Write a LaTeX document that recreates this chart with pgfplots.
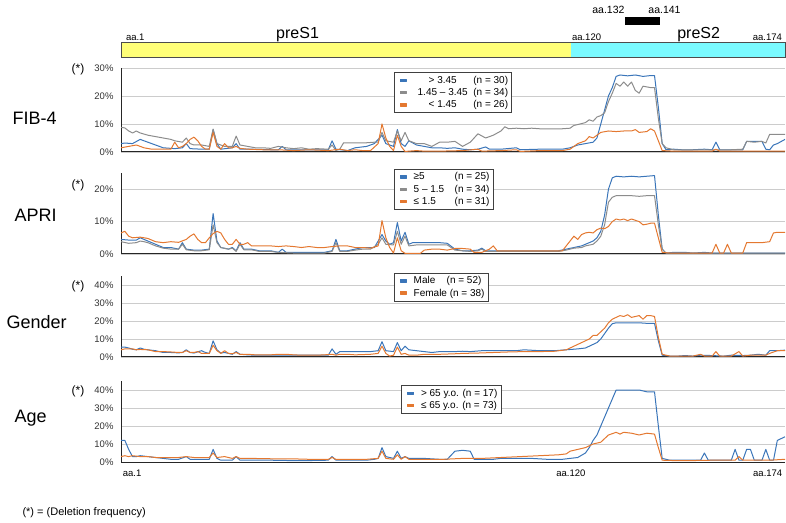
\documentclass[border=0pt]{standalone}
\usepackage{fontspec}
\setmainfont{Liberation Sans}
\usepackage{pgfplots}
\pgfplotsset{compat=1.18}

\definecolor{cblue}{RGB}{58,117,185}
\definecolor{cgray}{RGB}{140,140,140}
\definecolor{corange}{RGB}{228,120,48}
\definecolor{mapyellow}{RGB}{255,255,120}
\definecolor{mapcyan}{RGB}{122,250,255}

\pgfplotsset{
  panel/.style={
    at={(121pt,#1)}, anchor=south west, scale only axis, width=664pt,
    xmin=1, xmax=174, ymin=0,
    axis x line*=bottom, axis y line*=left,
    axis line style={-, black!85, line width=1pt},
    xtick=\empty, major tick length=0pt,
    ymajorgrids, grid style={black!20, line width=0.7pt},
    /pgf/number format/assume math mode=true,
    yticklabel={\pgfmathprintnumber{\tick}\%},
    tick label style={font=\fontsize{9.5}{10}\selectfont, text=black!80},
    yticklabel style={xshift=-4pt},
    legend cell align=left,
    legend style={anchor=north west, draw=black!75, line width=0.6pt,
      font=\fontsize{10}{12.5}\selectfont, inner sep=1.5pt, row sep=-0.5pt},
    legend image code/.code={\fill (4pt,-1.2pt) rectangle (10pt,1.2pt); \path (0pt,0pt) (15pt,0pt);},
    every axis plot/.append style={line width=1pt, line join=round},
  },
}

\begin{document}
\begin{tikzpicture}
\path[use as bounding box] (0,0) rectangle (786pt,522pt);

% ---------- gene map ----------
\begin{axis}[at={(121pt,465pt)}, anchor=south west, scale only axis,
  width=664pt, height=15pt, xmin=1, xmax=174, ymin=0, ymax=1,
  hide axis, clip=false]
\fill[mapyellow] (axis cs:1,0) rectangle (axis cs:118.2,1);
\fill[mapcyan] (axis cs:118.2,0) rectangle (axis cs:174,1);
\draw[black!70, line width=0.8pt] (axis cs:1,0) rectangle (axis cs:174,1);
\fill[black] (axis cs:132.4,2.13) rectangle (axis cs:141.5,2.67);
\node[anchor=south west, inner sep=1pt, font=\fontsize{9.5}{10}\selectfont] at (axis cs:2,1) {aa.1};
\node[anchor=south, inner sep=0pt, font=\fontsize{16}{18}\selectfont] at (axis cs:47,1) {preS1};
\node[anchor=south west, inner sep=1pt, font=\fontsize{9.5}{10}\selectfont] at (axis cs:118.2,1) {aa.120};
\node[anchor=south, inner sep=0pt, font=\fontsize{16}{18}\selectfont] at (axis cs:151.5,1) {preS2};
\node[anchor=south east, inner sep=1pt, font=\fontsize{9.5}{10}\selectfont] at (axis cs:173.5,1) {aa.174};
\node[font=\fontsize{10.5}{12}\selectfont] at (axis cs:128,3.13) {aa.132};
\node[font=\fontsize{10.5}{12}\selectfont] at (axis cs:142.6,3.13) {aa.141};
\end{axis}

% ---------- FIB-4 ----------
\begin{axis}[panel=370pt, height=84pt, ymax=30, ytick={0,10,20,30},
  legend style={at={(rel axis cs:0.411,0.95)}}]
\addplot[cblue] coordinates {(1,3)(2,3.2)(4,3)(6,4.5)(8,3.5)(10,2.5)(12,1.5)(15,1.2)(17,1.5)(18,3)(19,1.2)(22,1)(24,1)(25,8)(26,3)(27,1)(30,1.5)(31,3)(32,1)(35,1)(40,0.8)(42,0.8)(43,2)(44,0.8)(50,0.8)(55,0.8)(56,4)(57,1)(60,0.5)(62,1.5)(65,2)(67,3)(69,6)(70,3)(72,2)(73,8)(74,3)(75,2)(76,4)(78,2.5)(80,2)(82,1.5)(84,1.5)(86,1.3)(88,1.5)(90,1)(92,0.8)(94,1)(96,1.8)(97,1)(100,1)(104,1.5)(105,0.8)(110,1)(116,1)(118,1.5)(120,2.5)(122,3)(124,3.5)(125,5)(126,10)(127,15)(128,20)(129,23)(130,27)(131,27.5)(133,27.2)(135,27.5)(137,27)(139,27.3)(140,27.3)(141,16)(142,3)(143,0.8)(145,1)(147,0.8)(150,0.8)(153,1)(155,0.8)(156,3.5)(157,0.8)(160,0.8)(163,0.8)(164,3.8)(166,3.8)(168,3.8)(169,1)(170,0.8)(171,2.5)(172,3)(174,4.5)};
\addlegendentry{\makebox[5.8em][c]{> 3.45}\,(n = 30)}
\addplot[cgray] coordinates {(1,8.8)(2,8.6)(3,7.5)(4,6.8)(5,7.5)(6,6.8)(8,6)(10,5.5)(12,5)(14,4.5)(15,4)(17,3.5)(18,5)(19,3)(20,2.5)(22,2.5)(24,2)(25,8.2)(26,3)(28,2)(30,2)(31,5.7)(32,2.5)(34,2)(36,1.5)(38,1.5)(40,1.3)(42,2)(44,1.5)(46,1.2)(48,1.5)(50,1)(52,1.2)(55,1)(56,2.5)(57,0.5)(58,1)(59,3.3)(62,3.3)(65,3.3)(67,3.5)(68,3.5)(69,7)(70,4)(72,3.5)(73,7.5)(74,4)(75,7)(76,4)(78,3)(80,3)(82,2)(84,3.5)(86,3.5)(88,3.8)(90,2)(92,3.5)(94,6.5)(96,5)(98,6)(100,7.5)(101,9)(102,8.3)(104,8.5)(106,8.3)(108,8.5)(110,8.3)(112,8.3)(114,8.3)(116,8.3)(118,8.5)(119,9.5)(120,9.8)(122,10.5)(123,11.5)(124,11)(125,12.5)(126,13)(127,14)(128,18)(129,21)(130,24.5)(131,23.5)(132,25)(133,23.5)(134,25)(135,22)(136,21)(137,23.5)(139,23)(140,23)(141,12)(142,3)(143,1.5)(145,0.8)(147,0.8)(150,0.8)(155,0.8)(158,0.8)(160,0.8)(163,1)(164,3.8)(166,3.5)(168,3.8)(169,3.2)(170,6.3)(172,6.3)(174,6.3)};
\addlegendentry{\makebox[5.8em][c]{1.45 -- 3.45}\,(n = 34)}
\addplot[corange] coordinates {(1,1.5)(3,2)(5,2.5)(7,1.5)(9,1)(12,1)(14,1)(15,3.5)(16,1.5)(17,2)(18,3)(19,4.5)(20,5.3)(21,4)(22,2)(23,1)(24,1)(25,7)(26,2)(27,1)(28,3)(29,1.5)(30,1.5)(31,2)(32,1.3)(34,1)(38,0.8)(42,0.8)(46,0.5)(50,0.8)(55,0.5)(58,1)(60,0.5)(62,0.8)(64,0.5)(66,0.5)(68,3)(69,10)(70,5)(71,2)(72,0.5)(73,6)(74,2)(75,0.2)(78,0.5)(80,0.3)(84,0.3)(90,0.5)(94,1)(95,0.3)(100,0.5)(104,0.8)(105,0.2)(110,0.5)(116,0.5)(118,1)(120,3)(122,4)(123,5.5)(124,5)(126,7)(128,7.5)(130,7.3)(132,7.5)(134,7.5)(135,8)(136,7)(138,7.3)(139,8.3)(140,7.5)(141,4)(142,0.5)(145,0.3)(150,0.3)(155,0.3)(156,1)(157,0.3)(160,0.3)(165,0.3)(170,0.3)(174,0.3)};
\addlegendentry{\makebox[5.8em][c]{< 1.45}\,(n = 26)}
\end{axis}

% ---------- APRI ----------
\begin{axis}[panel=268pt, height=81pt, ymax=25, ytick={0,10,20},
  legend style={at={(rel axis cs:0.411,1.05)}}]
\addplot[cblue] coordinates {(1,4.5)(3,4.3)(5,4.3)(6,5)(7,4.5)(8,4)(10,3)(12,2)(14,2)(16,1.5)(17,3.5)(18,1.5)(20,1.2)(22,1.2)(24,1.5)(25,12.5)(26,4)(27,2)(29,1.5)(30,2)(31,1)(32,3.5)(33,1.5)(35,1.5)(37,1)(40,1)(42,0.5)(43,1.5)(44,0.5)(46,0.5)(50,0.5)(54,0.5)(56,1)(57,4.5)(58,1)(60,1)(62,1.5)(64,2)(67,2)(68,4)(69,6)(70,4)(71,3)(72,3.5)(73,9.7)(74,4)(75,6.7)(76,3)(77,3.5)(80,3.5)(84,3.5)(86,3.3)(88,1.5)(90,1)(92,1)(94,1.2)(95,1.8)(96,1)(100,1)(105,1)(110,1)(115,1)(117,1.5)(119,2)(121,2.5)(122,3)(124,4)(125,5)(126,7)(127,12)(128,20)(129,23.5)(130,24)(132,23.8)(134,24)(136,23.8)(138,24)(140,24.2)(141,12)(142,1.5)(143,0.3)(145,0.5)(148,0.5)(150,0.3)(153,0.5)(155,0.3)(160,0.3)(165,0.3)(170,0.3)(174,0.3)};
\addlegendentry{\makebox[4.1em][l]{≥5}(n = 25)}
\addplot[cgray] coordinates {(1,3.8)(3,3.3)(5,3.5)(6,4)(7,3.8)(8,3.5)(10,2.5)(12,1.8)(14,1.5)(16,1.5)(17,3)(18,1.3)(20,1)(22,1)(24,1.3)(25,9)(26,3.5)(27,2)(29,1.5)(30,1.8)(31,0.8)(32,3)(33,1.3)(35,1.3)(37,0.8)(40,0.8)(42,0.5)(46,0.3)(50,0.3)(54,0.3)(56,0.8)(57,3.5)(58,0.8)(60,0.8)(62,1.2)(64,1.5)(66,1.5)(68,3)(69,5)(70,3)(72,2.8)(73,7)(74,3)(75,5.5)(76,2.5)(78,2.8)(84,2.8)(86,2.8)(88,1.2)(90,1)(92,0.8)(94,1)(95,1.5)(96,0.8)(100,0.8)(110,0.8)(115,0.8)(117,1.2)(119,1.8)(121,2)(122,2.5)(124,3)(125,4)(126,5.5)(127,9)(128,16)(129,17.5)(130,18)(132,18)(134,18)(136,17.8)(138,18)(140,18)(141,9)(142,1.5)(143,0.3)(150,0.3)(160,0.3)(174,0.3)};
\addlegendentry{\makebox[4.1em][l]{5 -- 1.5}(n = 34)}
\addplot[corange] coordinates {(1,6.5)(2,7)(3,5.5)(4,5)(6,5.2)(8,4.8)(10,3.8)(12,3.5)(14,3.8)(16,3.6)(18,4.5)(19,5.5)(20,6.2)(21,4.5)(22,3.5)(23,3.5)(24,5)(25,6.3)(26,7)(27,6.5)(28,4.5)(29,3)(30,3)(31,4.5)(32,3)(33,3)(34,3.5)(35,2.5)(37,2.5)(40,2.5)(42,2.3)(44,2.5)(46,2.3)(48,2)(50,2.3)(52,2)(54,2)(56,2.3)(58,2.5)(60,2.5)(62,2)(64,2)(66,1.8)(68,2.5)(69,10.3)(70,5)(71,2)(72,0.3)(73,5)(74,1)(75,0.2)(79,0.2)(80,1.2)(82,1.5)(84,1.5)(86,1.2)(88,1.7)(90,1.7)(92,1.5)(93,0.5)(95,0.5)(97,1.5)(98,2.5)(99,1)(100,1)(108,1)(116,1)(117,2.5)(118,4)(119,5.5)(120,4.5)(121,6)(122,6.5)(123,6.7)(124,6.5)(125,7.5)(126,8)(127,7.8)(128,8.5)(129,10)(130,10.8)(131,10.5)(132,10.8)(133,10.3)(134,10.8)(136,10)(137,9)(138,9.2)(139,9.5)(140,9.5)(141,5)(142,0.5)(144,0.3)(150,0.3)(155,0.3)(156,3)(157,0.3)(158,0.3)(159,3)(160,0.3)(163,0.3)(164,3.5)(166,3.5)(168,3.5)(170,3.8)(171,6.5)(172,6.7)(174,6.7)};
\addlegendentry{\makebox[4.1em][l]{≤ 1.5}(n = 31)}
\end{axis}

% ---------- Gender ----------
\begin{axis}[panel=165pt, height=81pt, ymax=45, ytick={0,10,20,30,40},
  legend style={at={(rel axis cs:0.411,1.04)}}]
\addplot[cblue] coordinates {(1,5.5)(2,5.5)(3,5)(4,4.3)(5,4)(6,5)(7,4.3)(8,4)(10,3.5)(12,2.5)(14,2.5)(16,2.3)(17,2.5)(18,4)(19,2.5)(20,2.2)(22,3.5)(23,2.5)(24,2)(25,9)(26,4)(27,2.2)(28,2.5)(30,1.5)(31,3)(32,1.5)(34,1.2)(36,1)(40,1)(44,1)(48,1)(52,1)(55,1)(56,4.5)(57,1.5)(58,3)(62,3)(66,3)(68,3.5)(69,8.5)(70,3.5)(72,3)(73,8)(74,3.5)(75,6)(76,4)(78,3.5)(80,3)(82,2.5)(84,3)(88,3)(90,3.2)(92,3)(95,3.5)(100,3.5)(104,3.5)(106,4)(110,3.5)(114,3.5)(117,4)(120,4.5)(122,5)(123,6)(124,7)(125,8)(126,10)(127,13)(128,16)(129,18.5)(130,19)(132,19)(134,19)(136,19)(138,18.7)(140,18.7)(141,9)(142,1)(144,0.5)(146,0.5)(148,0.8)(150,0.5)(152,1)(155,0.8)(158,0.5)(160,1)(163,0.8)(165,1)(167,1.5)(169,1)(170,3.5)(172,3.5)(174,3.8)};
\addlegendentry{\makebox[3.3em][l]{Male}(n = 52)}
\addplot[corange] coordinates {(1,4)(2,4.5)(4,4.5)(5,4)(6,4.2)(8,4)(10,3)(12,3)(14,2.8)(16,2.5)(17,2.5)(18,3.5)(19,2.5)(20,2.5)(21,3)(22,2)(24,2)(25,6.5)(26,3.5)(27,2)(28,3.5)(29,2)(30,1.8)(31,2.5)(32,1.5)(34,1.5)(36,1.2)(40,1.2)(42,1.5)(44,1.5)(46,1.2)(48,1)(52,1)(54,1.2)(56,1.5)(57,1)(58,1.5)(60,1.5)(62,1.2)(66,1.5)(68,2)(69,6)(70,2)(71,0.5)(72,1)(73,5.5)(74,1.5)(75,2)(76,1)(78,1)(80,1.5)(84,1.5)(88,1.8)(90,2)(94,2.2)(98,2.5)(102,2.8)(106,3)(110,3)(114,3.2)(117,4)(118,5)(120,7)(121,8)(122,9)(123,10)(124,12)(125,12)(126,14)(127,16)(128,19)(129,21)(130,22)(131,23)(132,22.5)(133,23.5)(134,22)(135,22.5)(136,23)(137,21)(138,23)(139,23)(140,22.5)(141,11)(142,1.5)(144,0.5)(150,0.5)(152,1.5)(153,0.5)(155,0.5)(156,3)(157,0.5)(160,0.5)(162,3)(163,0.5)(165,1)(169,1)(170,2)(172,3.5)(174,3.5)};
\addlegendentry{Female (n = 38)}
\end{axis}

% ---------- Age ----------
\begin{axis}[panel=60pt, height=81pt, ymax=45, ytick={0,10,20,30,40},
  legend style={at={(rel axis cs:0.422,0.95)}}, clip=false]
\addplot[cblue] coordinates {(1,12)(2,12)(3,7)(4,3)(5,3)(6,3.5)(8,3)(10,2.5)(12,2)(14,1.5)(16,1.5)(18,3)(19,1.5)(22,1.5)(24,1.5)(25,7)(26,2)(27,1)(30,1)(31,3)(32,1)(35,1)(40,1)(45,0.8)(50,0.8)(55,1)(56,3)(57,1)(62,1)(65,1)(67,1.5)(68,2)(69,8)(70,3)(72,2)(73,6)(74,2)(75,3)(76,2)(80,2)(84,1.5)(86,1.5)(88,6)(90,6.5)(92,6)(93,1.5)(98,1.5)(100,2)(108,2)(112,1.5)(116,1.5)(118,2)(120,2.5)(122,5)(123,8)(124,12)(125,15)(126,20)(127,25)(128,30)(129,35)(130,40)(132,40)(134,40)(136,40)(138,39)(140,39)(141,20)(142,2)(144,1)(152,1)(153,5)(154,1)(160,1)(161,7)(162,1)(163,1)(164,7)(165,7)(166,1)(168,1)(169,7)(170,1)(171,1)(172,12)(173,13)(174,14)};
\addlegendentry{> 65 y.o. (n = 17)}
\addplot[corange] coordinates {(1,3)(2,3.5)(3,3)(4,3.5)(6,3)(8,3)(10,2.5)(16,2.5)(18,3)(20,2.5)(24,2.5)(25,5)(26,2.5)(28,3)(30,2)(31,3)(32,2)(35,2)(40,1.8)(45,1.8)(50,1.5)(55,1.5)(56,2.5)(57,1.5)(65,1.5)(68,2)(69,6)(70,2)(72,1.5)(73,4)(74,1.5)(75,3)(76,1.5)(85,1.5)(90,2)(95,2)(100,2.5)(105,3)(110,3.5)(115,4)(117,4.5)(118,6)(120,7)(122,8)(124,10)(126,11)(127,13)(128,15)(130,16.5)(131,15.5)(132,16.5)(134,16)(136,15)(138,16)(140,15.5)(141,8)(142,1)(145,0.8)(150,0.8)(155,1)(161,1)(162,3)(163,1)(170,1)(174,1.5)};
\addlegendentry{≤ 65 y.o. (n = 73)}
\node[anchor=north, font=\fontsize{9.5}{10}\selectfont] at (axis cs:3.9,-2.5) {aa.1};
\node[anchor=north, font=\fontsize{9.5}{10}\selectfont] at (axis cs:118.2,-2.5) {aa.120};
\node[anchor=north, font=\fontsize{9.5}{10}\selectfont] at (axis cs:169.5,-2.5) {aa.174};
\end{axis}

% ---------- side labels ----------
\node[font=\fontsize{12}{14}\selectfont] at (78pt,453pt) {(*)};
\node[font=\fontsize{12}{14}\selectfont] at (78pt,337pt) {(*)};
\node[font=\fontsize{12}{14}\selectfont] at (78pt,236pt) {(*)};
\node[font=\fontsize{12}{14}\selectfont] at (78pt,131pt) {(*)};
\node[anchor=west, font=\fontsize{18}{20}\selectfont] at (9pt,404pt) {FIB-4};
\node[anchor=west, font=\fontsize{18}{20}\selectfont] at (11pt,307pt) {APRI};
\node[anchor=west, font=\fontsize{18}{20}\selectfont] at (3pt,200pt) {Gender};
\node[anchor=west, font=\fontsize{18}{20}\selectfont] at (11pt,104pt) {Age};
\node[anchor=west, font=\fontsize{11}{13}\selectfont] at (19pt,9pt) {(*) = (Deletion frequency)};
\end{tikzpicture}
\end{document}
